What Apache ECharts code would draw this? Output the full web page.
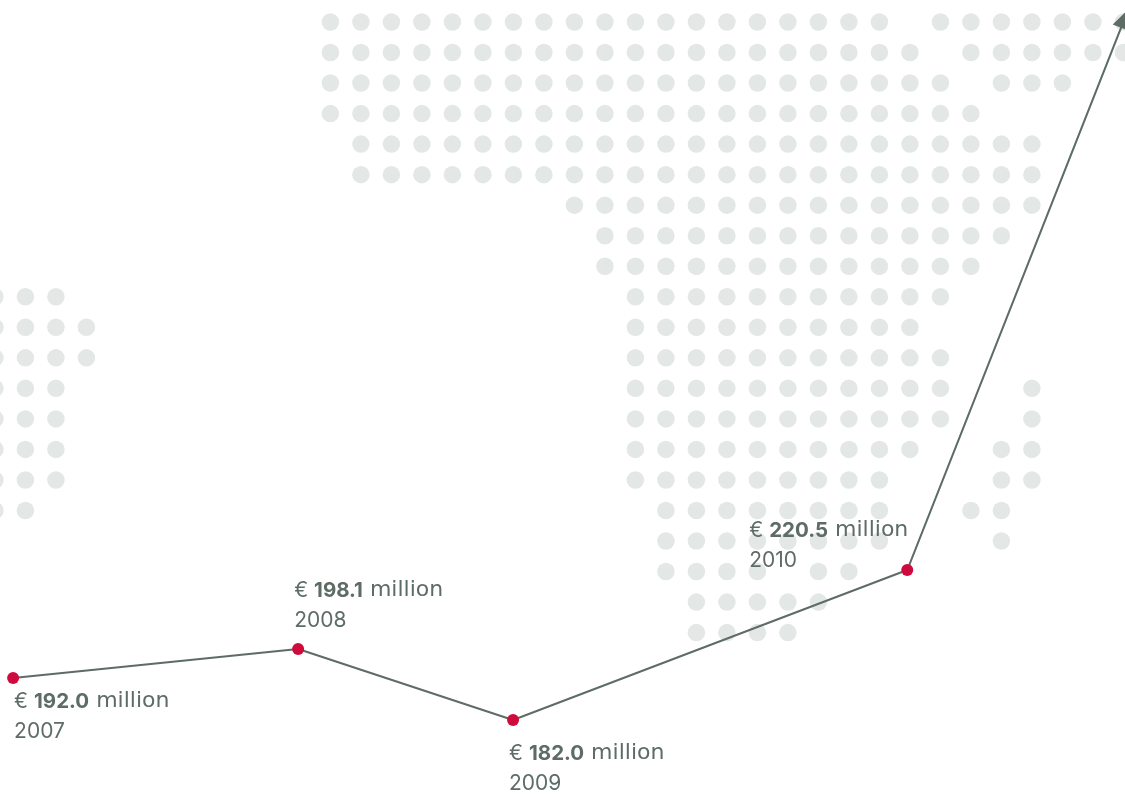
<!DOCTYPE html>
<html>
<head>
<meta charset="utf-8">
<style>html,body{margin:0;padding:0;background:#fff}#c{width:1125px;height:796px}</style>
<script src="https://cdn.jsdelivr.net/npm/echarts@6/dist/echarts.min.js"></script>
</head>
<body>
<div id="c"></div>
<script>
// Years and reported revenue (labels)
const years = ['2007', '2008', '2009', '2010'];
const reported = ['192.0', '198.1', '182.0', '220.5'];
// Where the line is drawn: time position and level in € million
const linePosition = [2007, 2008, 2008.754, 2010.137, 2010.9];
const lineLevel = [192.0, 198.9, 182.0, 217.7, 349.0];
// Background dot map: for each row, the runs of occupied columns
const dotRows = [
  [[0, 18], [20, 26]],
  [[0, 19], [21, 26]],
  [[0, 20], [22, 24]],
  [[0, 21]],
  [[1, 23]],
  [[1, 23]],
  [[8, 23]],
  [[9, 22]],
  [[9, 21]],
  [[-11, -9], [10, 20]],
  [[-11, -8], [10, 19]],
  [[-11, -8], [10, 20]],
  [[-11, -9], [10, 20], [23, 23]],
  [[-11, -9], [10, 20], [23, 23]],
  [[-11, -9], [10, 19], [22, 23]],
  [[-11, -9], [10, 18], [22, 23]],
  [[-11, -10], [11, 18], [21, 22]],
  [[11, 18], [22, 22]],
  [[11, 14], [16, 17]],
  [[12, 16]],
  [[12, 15]]
];

const ink = '#5d6c64', red = '#cf0a3c', dot = '#e3e7e6';
const dots = [];
dotRows.forEach((runs, r) => runs.forEach(([a, b]) => {
  for (let k = a; k <= b; k++) dots.push([k, r]);
}));

const labelOffsets = [[7, 15], [2, -67], [2, 25], [-152, -48]];
const lineData = linePosition.map((x, i) => {
  if (i < years.length) {
    return {
      value: [x, lineLevel[i]],
      symbol: 'circle',
      symbolSize: 12,
      itemStyle: { color: red },
      label: {
        show: true,
        position: labelOffsets[i],
        align: 'left',
        verticalAlign: 'top',
        formatter: `{a|€ }{b|${reported[i]}}{c| million}\n{a|${years[i]}}`,
        rich: {
          a: { fontFamily: 'Inter', fontSize: 21, color: ink, lineHeight: 29.5 },
          b: { fontFamily: 'Inter', fontSize: 20.5, fontWeight: 'bold', color: ink, lineHeight: 29.5 },
          c: { fontFamily: 'DejaVu Sans', fontSize: 22, color: ink, lineHeight: 29.5 }
        }
      }
    };
  }
  return {
    value: [x, lineLevel[i]],
    symbol: 'triangle',
    symbolSize: [18, 20],
    symbolRotate: -21.5,
    itemStyle: { color: ink },
    label: { show: false }
  };
});

const chart = echarts.init(document.getElementById('c'), null, { renderer: 'canvas' });
chart.setOption({
  animation: false,
  backgroundColor: '#ffffff',
  grid: { left: 0, right: 0, top: 0, bottom: 0 },
  xAxis: [
    { type: 'value', min: 2006.954, max: 2010.901, show: false },
    { type: 'value', min: -10.833, max: 26.052, show: false }
  ],
  yAxis: [
    { type: 'value', min: 163.9, max: 353.4, show: false },
    { type: 'value', min: -0.7206, max: 25.352, inverse: true, show: false }
  ],
  series: [
    {
      type: 'scatter', xAxisIndex: 1, yAxisIndex: 1, data: dots,
      symbol: 'circle', symbolSize: 17.5, clip: false, silent: true, z: 1,
      itemStyle: { color: dot, opacity: 1 }
    },
    {
      type: 'line', xAxisIndex: 0, yAxisIndex: 0, data: lineData,
      showAllSymbol: true, clip: false, z: 3,
      lineStyle: { color: ink, width: 2 }
    }
  ]
});
</script>
</body>
</html>
